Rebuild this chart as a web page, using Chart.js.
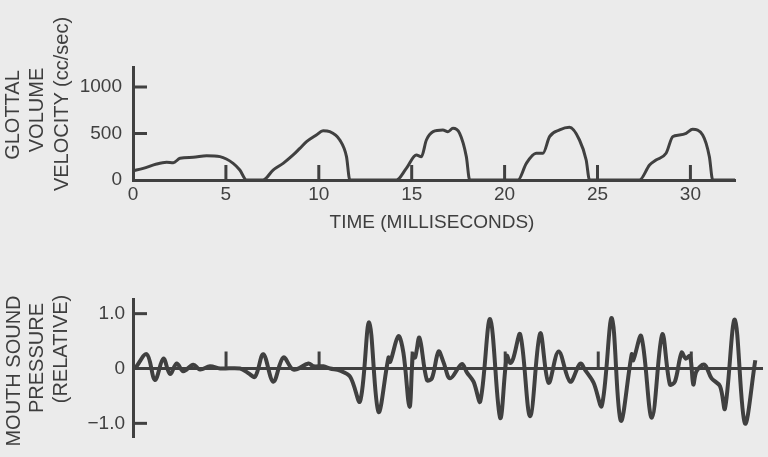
<!DOCTYPE html>
<html>
<head>
<meta charset="utf-8">
<script src="https://cdn.jsdelivr.net/npm/chart.js@4.4.1/dist/chart.umd.min.js"></script>
<style>
  html, body { margin: 0; padding: 0; background: #ebebeb; width: 768px; height: 457px; overflow: hidden; }
  .wrap { position: absolute; left: 0; }
  .lbl { position: absolute; font-family: "Liberation Sans", Arial, sans-serif; color: #3e3e3e; white-space: nowrap; line-height: 1; }
  .rot { transform: translate(-50%, -50%) rotate(-90deg); font-size: 20px; }
  .hor { transform: translate(-50%, -50%); font-size: 19px; }
</style>
</head>
<body>
<div class="wrap" style="top:0;width:768px;height:230px;"><canvas id="top" width="768" height="230"></canvas></div>
<div class="wrap" style="top:280px;width:768px;height:177px;"><canvas id="bot" width="768" height="177"></canvas></div>

<div class="lbl rot" style="left:12px;top:115px;">GLOTTAL</div>
<div class="lbl rot" style="left:36px;top:110px;">VOLUME</div>
<div class="lbl rot" style="left:61px;top:104px;">VELOCITY (cc/sec)</div>
<div class="lbl hor" style="left:432px;top:221px;">TIME (MILLISECONDS)</div>
<div class="lbl rot" style="left:13px;top:371px;">MOUTH SOUND</div>
<div class="lbl rot" style="left:36px;top:358px;">PRESSURE</div>
<div class="lbl rot" style="left:60px;top:349px;">(RELATIVE)</div>

<script>
// ---- data ----
const timeTicks = [0, 5, 10, 15, 20, 25, 30];
const flowTicks = [0, 500, 1000];
const pressureTicks = [-1, 0, 1];
const pressureTickLabels = ['\u22121.0', '0', '1.0'];

// glottal volume velocity (cc/sec) vs time (ms)
const glottalTime = [0, 0.55, 1.27, 1.81, 2.17, 2.53, 3.24, 3.96, 4.68, 5.39, 5.75, 6.11,
  7.0, 7.54, 8.08, 8.62, 8.98, 9.34, 9.87, 10.23, 10.59, 11.13, 11.49, 11.67,
  14.18, 14.71, 15.25, 15.52, 15.79, 16.15, 16.68, 16.95, 17.22, 17.58, 17.94, 18.12,
  20.72, 21.17, 21.7, 22.06, 22.42, 22.96, 23.49, 24.03, 24.39, 24.57,
  27.26, 27.8, 28.15, 28.69, 29.05, 29.41, 29.77, 30.12, 30.66, 31.02, 31.2, 32.4];
const glottalFlow = [100, 125, 172, 190, 186, 233, 244, 262, 251, 179, 107, 0,
  0, 107, 179, 269, 340, 412, 484, 530, 520, 430, 251, 0,
  0, 125, 269, 251, 430, 520, 538, 520, 556, 502, 251, 0,
  0, 179, 287, 287, 466, 538, 566, 430, 215, 0,
  0, 161, 215, 287, 466, 484, 502, 545, 484, 251, 0, 0];

// mouth sound pressure (relative) vs time (ms)
const soundTime = [0.11, 0.74, 1.18, 1.63, 1.99, 2.35, 2.70, 3.24, 3.60, 4.14, 4.68, 5.75, 6.18, 6.56,
  7.0, 7.54, 8.08, 8.62, 9.43, 9.70, 10.23, 10.59, 11.13, 11.67, 12.20, 12.69, 13.19,
  13.73, 13.82, 14.26, 14.53, 14.86, 15.04, 15.16, 15.39, 15.79, 16.06, 16.42, 16.68, 17.04,
  17.67, 17.94, 18.30, 18.66, 19.19, 19.73, 20.09, 20.27, 20.43, 20.81, 21.34, 21.88, 22.33,
  22.87, 23.49, 24.03, 24.30, 24.75, 25.19, 25.73, 26.21, 26.80, 26.88, 27.31, 27.88, 28.44,
  28.85, 29.12, 29.48, 29.70, 29.93, 30.11, 30.28, 30.70, 31.09, 31.54, 31.81, 32.34, 32.88, 33.44];
const soundPressure = [0, 0.26, -0.21, 0.18, -0.10, 0.09, -0.05, 0.07, -0.02, 0.04, 0, 0, -0.08, -0.15,
  0.26, -0.24, 0.20, -0.02, 0.09, 0.04, 0.04, 0, -0.04, -0.15, -0.60, 0.84, -0.79,
  0.20, 0.12, 0.59, 0.29, -0.70, 0.26, 0.20, 0.56, -0.21, -0.18, 0.31, 0.12, -0.18,
  0.08, -0.07, -0.24, -0.60, 0.90, -0.90, 0.23, 0.10, 0.18, 0.62, -0.87, 0.64, -0.26,
  0.31, -0.24, 0.09, -0.03, -0.26, -0.68, 0.92, -0.95, 0.26, 0.15, 0.59, -0.90, 0.62,
  -0.29, -0.24, 0.29, 0.18, 0.23, -0.29, -0.05, 0.07, -0.18, -0.32, -0.73, 0.89, -1.00, 0.15];

const INK = '#404040';
const FONT = { family: '"Liberation Sans", Arial, sans-serif', size: 19 };

function pts(xs, ys) { return xs.map((x, i) => ({ x: x, y: ys[i] })); }

function innerTicks(opts) {
  return {
    id: 'innerTicks',
    afterDraw(chart) {
      const ctx = chart.ctx, xs = chart.scales.x, ys = chart.scales.y;
      const y0 = ys.getPixelForValue(0), x0 = xs.getPixelForValue(0);
      ctx.save();
      ctx.strokeStyle = INK; ctx.lineWidth = 3; ctx.lineCap = 'butt';
      opts.xTicks.forEach(v => {
        const px = xs.getPixelForValue(v);
        ctx.beginPath(); ctx.moveTo(px, y0); ctx.lineTo(px, y0 - opts.xLen); ctx.stroke();
      });
      opts.yTicks.forEach(v => {
        const py = ys.getPixelForValue(v);
        ctx.beginPath(); ctx.moveTo(x0, py); ctx.lineTo(x0 + opts.yLen, py); ctx.stroke();
      });
      ctx.restore();
    }
  };
}

new Chart(document.getElementById('top'), {
  type: 'scatter',
  data: { datasets: [{ data: pts(glottalTime, glottalFlow), showLine: true, borderColor: INK, borderWidth: 3,
    pointRadius: 0, cubicInterpolationMode: 'monotone', fill: false }] },
  options: {
    responsive: false, animation: false,
    layout: { padding: { top: 67, right: 33, left: 0, bottom: 0 } },
    plugins: { legend: { display: false }, tooltip: { enabled: false } },
    scales: {
      x: { type: 'linear', min: 0, max: 32.4,
        afterBuildTicks: s => { s.ticks = timeTicks.map(v => ({ value: v })); },
        afterFit: s => { s.height = 50; },
        grid: { display: true, drawOnChartArea: false, drawTicks: false },
        border: { display: true, color: INK, width: 3 },
        ticks: { color: INK, font: FONT, padding: 3, maxRotation: 0, autoSkip: false, callback: v => String(v) } },
      y: { type: 'linear', min: 0, max: 1215,
        afterBuildTicks: s => { s.ticks = flowTicks.map(v => ({ value: v })); },
        afterFit: s => { s.width = 133; },
        grid: { display: true, drawOnChartArea: false, drawTicks: false },
        border: { display: true, color: INK, width: 3 },
        ticks: { color: INK, font: FONT, padding: 11, callback: v => String(v) } }
    }
  },
  plugins: [innerTicks({ xTicks: [5, 10, 15, 20, 25, 30], yTicks: [500, 1000], xLen: 15, yLen: 14 })]
});

new Chart(document.getElementById('bot'), {
  type: 'scatter',
  data: { datasets: [{ data: pts(soundTime, soundPressure), showLine: true, borderColor: INK, borderWidth: 4,
    pointRadius: 0, tension: 0.35, fill: false }] },
  options: {
    responsive: false, animation: false,
    layout: { padding: { top: 18, right: 6, left: 0, bottom: 7 } },
    plugins: { legend: { display: false }, tooltip: { enabled: false } },
    scales: {
      x: { type: 'linear', min: 0, max: 33.8, position: { y: 0 },
        afterFit: s => { s.height = 0; },
        grid: { display: true, drawOnChartArea: false, drawTicks: false },
        border: { display: true, color: INK, width: 3 },
        ticks: { display: false } },
      y: { type: 'linear', min: -1.26, max: 1.26,
        afterBuildTicks: s => { s.ticks = pressureTicks.map(v => ({ value: v })); },
        afterFit: s => { s.width = 133; },
        grid: { display: true, drawOnChartArea: false, drawTicks: false },
        border: { display: true, color: INK, width: 3 },
        ticks: { color: INK, font: FONT, padding: 8,
          callback: (v) => pressureTickLabels[pressureTicks.indexOf(v)] } }
    }
  },
  plugins: [innerTicks({ xTicks: [5, 10, 15, 20, 25, 30], yTicks: [-1, 1], xLen: 17, yLen: 14 })]
});
</script>
</body>
</html>
